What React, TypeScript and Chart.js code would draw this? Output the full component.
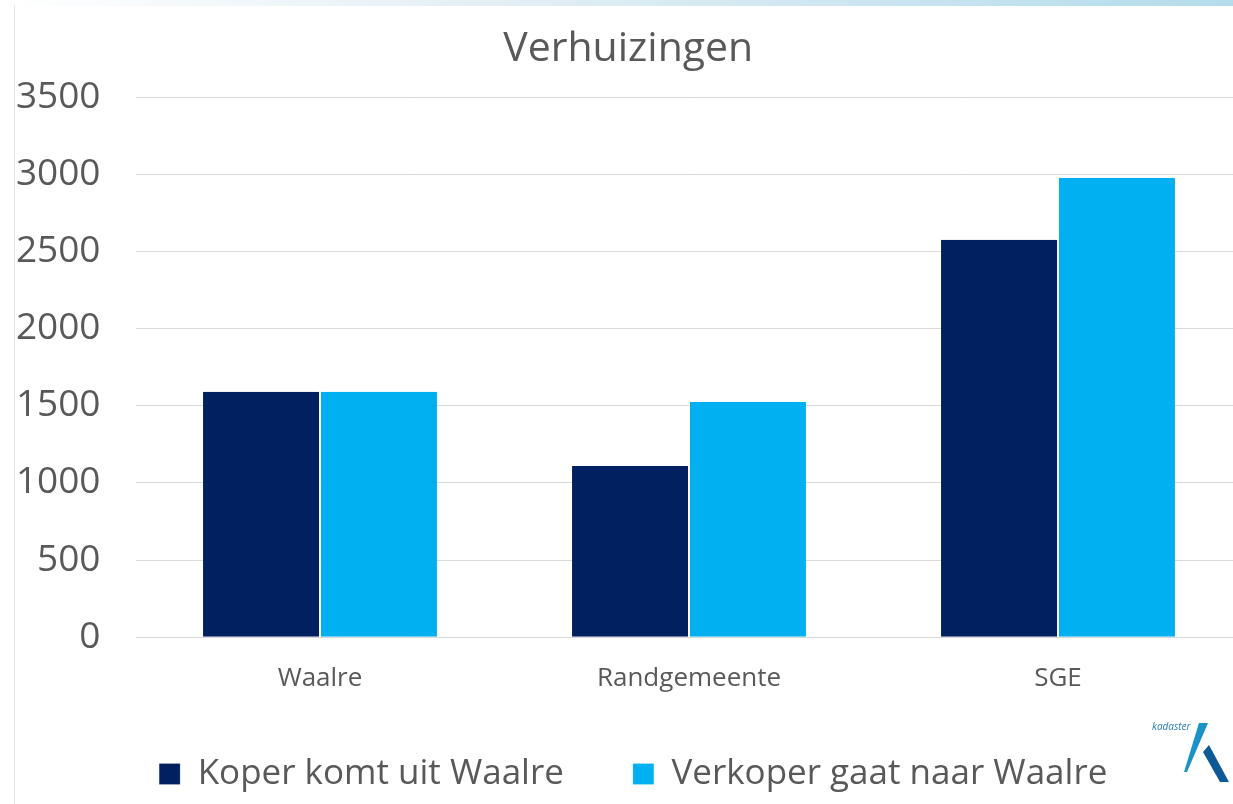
import React, { useEffect, useRef } from "react";
import { Chart, registerables } from "chart.js";

Chart.register(...registerables);

const categories = ["Waalre", "Randgemeente", "SGE"];
const koperValues = [1590, 1110, 2575];
const verkoperValues = [1590, 1525, 2975];
const seriesLabels = ["Koper komt uit Waalre", "Verkoper gaat naar Waalre"];
const yTicks = [0, 500, 1000, 1500, 2000, 2500, 3000, 3500];
const titleText = "Verhuizingen";

const FONT = "'Open Sans', 'Noto Sans', sans-serif";
const TEXT = "#595959";

export default function App() {
  const ref = useRef<HTMLCanvasElement | null>(null);

  useEffect(() => {
    document.body.style.margin = "0";
    const canvas = ref.current!;
    const shiftBoxes = {
      id: "shiftBoxes",
      afterLayout(chart: any) {
        const lg = chart.legend;
        if (lg) {
          lg.left += 12;
          lg.right += 12;
          lg.top -= 33;
          lg.bottom = chart.height;
          lg.height = lg.bottom - lg.top;
        }
        const tb = chart.titleBlock;
        if (tb) {
          tb.left += 7;
          tb.right += 7;
        }
      },
    };
    const chart = new Chart(canvas, {
      type: "bar",
      data: {
        labels: categories,
        datasets: [
          {
            label: seriesLabels[0],
            data: koperValues,
            backgroundColor: "#002060",
            borderColor: "rgba(255,255,255,0.85)",
            borderWidth: { top: 0, left: 0, right: 1, bottom: 0 },
            categoryPercentage: 0.634,
            barPercentage: 1,
          },
          {
            label: seriesLabels[1],
            data: verkoperValues,
            backgroundColor: "#00B0F0",
            borderColor: "rgba(255,255,255,0.85)",
            borderWidth: { top: 0, left: 1, right: 0, bottom: 0 },
            categoryPercentage: 0.634,
            barPercentage: 1,
          },
        ],
      },
      options: {
        responsive: false,
        animation: false,
        devicePixelRatio: 1,
        layout: { padding: { left: 0, right: 7.5, top: 0, bottom: 0 } },
        plugins: {
          title: {
            display: true,
            text: titleText,
            color: TEXT,
            font: { family: FONT, size: 41, weight: "normal" },
            padding: { top: 25, bottom: 22.8 },
          },
          legend: {
            display: true,
            position: "bottom",
            maxHeight: 83.5,
            labels: {
              color: TEXT,
              font: { family: FONT, size: 35 },
              boxWidth: 21,
              boxHeight: 21,
              padding: 69,
            },
          },
          tooltip: { enabled: false },
        },
        scales: {
          x: {
            grid: { display: false, drawTicks: false },
            border: { display: false },
            ticks: {
              color: TEXT,
              font: { family: FONT, size: 26 },
              padding: 26,
            },
          },
          y: {
            min: 0,
            max: 3500,
            afterBuildTicks(scale: any) {
              scale.ticks = yTicks.map((v) => ({ value: v }));
            },
            afterFit(scale: any) {
              scale.width = 135.5;
            },
            grid: { color: "#d9d9d9", lineWidth: 1, drawTicks: false },
            border: { display: false },
            ticks: {
              color: TEXT,
              font: { family: FONT, size: 37 },
              padding: 35,
              callback: (v: any) => String(v),
            },
          },
        },
      },
      plugins: [shiftBoxes],
    });
    return () => chart.destroy();
  }, []);

  return (
    <div
      style={{
        position: "absolute",
        left: 0,
        top: 0,
        width: 1233,
        height: 804,
        overflow: "hidden",
        background: "#ffffff",
      }}
    >
      <canvas ref={ref} width={1250} height={804} style={{ display: "block" }} />
      <div
        style={{
          position: "absolute",
          left: 0,
          top: 0,
          width: 1233,
          height: 6,
          background: "linear-gradient(to right, #ffffff 0%, #e3eff5 40%, #b4dcec 100%)",
        }}
      />
      <div
        style={{
          position: "absolute",
          left: 14,
          top: 5,
          width: 1,
          height: 799,
          background: "#e8e8e8",
        }}
      />
      <svg
        width={90}
        height={70}
        viewBox="1145 715 90 70"
        style={{ position: "absolute", left: 1145, top: 715 }}
      >
        <text
          x={1152}
          y={730}
          fontFamily="'Open Sans', sans-serif"
          fontStyle="italic"
          fontSize={10}
          fill="#2b7db4"
        >
          kadaster
        </text>
        <polygon points="1199,723 1208,723 1187,772 1184,772" fill="#1a93c8" />
        <polygon points="1203,752 1209,745 1229,782 1220,782" fill="#0d5a96" />
      </svg>
    </div>
  );
}
